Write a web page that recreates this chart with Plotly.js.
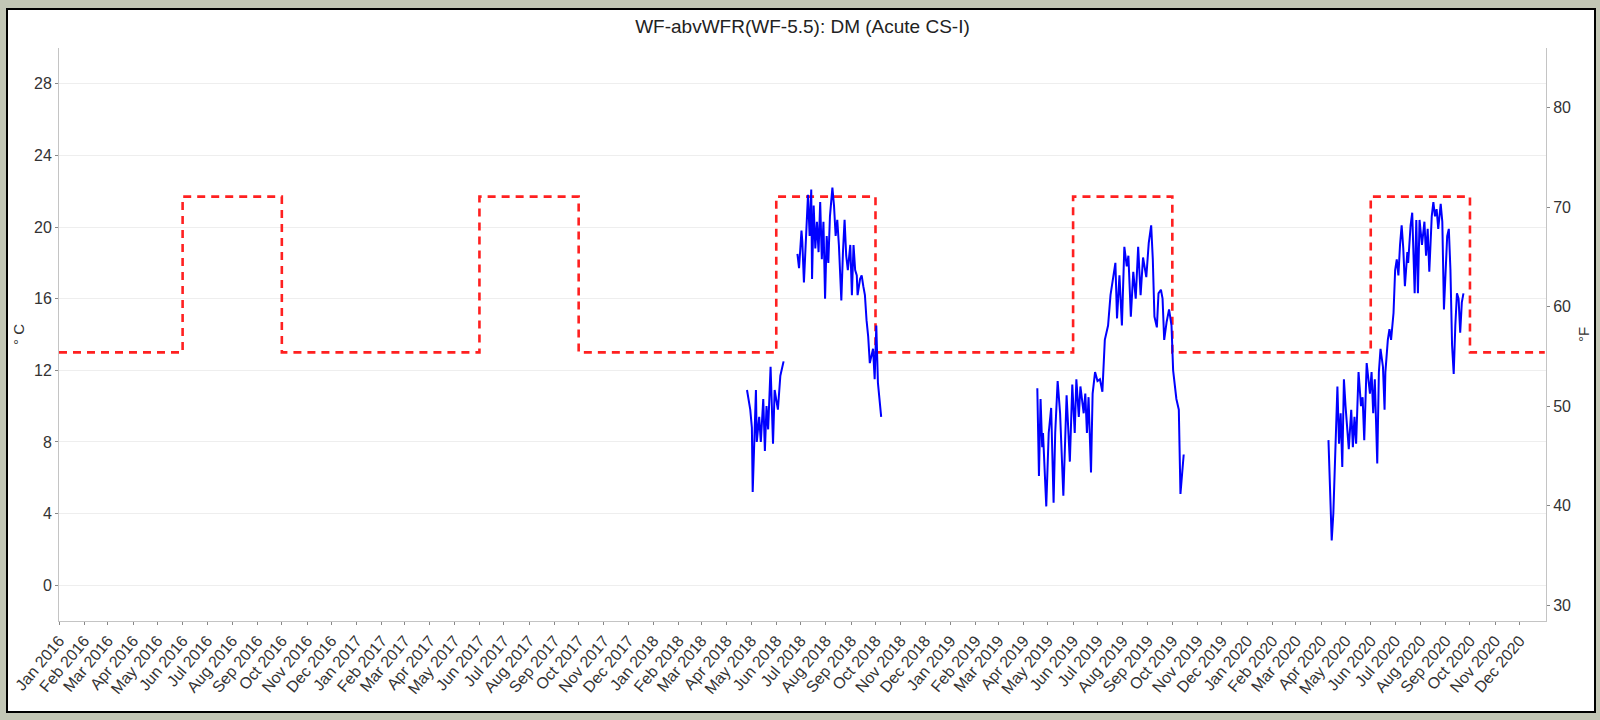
<!DOCTYPE html>
<html>
<head>
<meta charset="utf-8">
<script src="https://cdn.plot.ly/plotly-3.0.1.min.js"></script>
<style>
  html, body { margin: 0; padding: 0; width: 1600px; height: 720px; background: #c2c6b5; overflow: hidden; }
  #frame { position: absolute; left: 6px; top: 8px; width: 1586px; height: 701px; border: 2px solid #000; background: #fff; }
  #chart { width: 1586px; height: 701px; }
</style>
</head>
<body>
<div id="frame"><div id="chart"></div></div>
<script>
// ---- Data ----
const chartTitle = 'WF-abvWFR(WF-5.5): DM (Acute CS-I)';

// Criterion step line (°C)
const criterionDates = ['2016-01-01','2016-06-01','2016-10-01','2017-06-01','2017-10-01','2018-06-01','2018-10-01','2019-06-01','2019-10-01','2020-06-01','2020-10-01','2021-01-01'];
const criterionC     = [13, 21.7, 13, 21.7, 13, 21.7, 13, 21.7, 13, 21.7, 13, 13];

// Daily max temperature (°C), spring 2018
const spring2018Dates = ['2018-04-26','2018-04-30','2018-05-02','2018-05-03','2018-05-07','2018-05-08','2018-05-11','2018-05-13','2018-05-16','2018-05-18','2018-05-20','2018-05-22','2018-05-25','2018-05-28','2018-05-30','2018-06-03','2018-06-06','2018-06-10'];
const spring2018C     = [10.9, 9.8, 8.8, 5.2, 10.9, 8.0, 9.4, 8.0, 10.4, 7.5, 10.0, 8.7, 12.2, 7.9, 10.9, 9.8, 11.7, 12.5];

// Summer 2018
const summer2018Dates = ['2018-06-27','2018-06-29','2018-07-02','2018-07-03','2018-07-05','2018-07-07','2018-07-10','2018-07-12','2018-07-14','2018-07-15','2018-07-17','2018-07-19','2018-07-21','2018-07-23','2018-07-25','2018-07-27','2018-07-29','2018-07-31','2018-08-02','2018-08-04','2018-08-06','2018-08-09','2018-08-11','2018-08-13','2018-08-15','2018-08-17','2018-08-20','2018-08-22','2018-08-24','2018-08-26','2018-08-28','2018-08-31','2018-09-02','2018-09-04','2018-09-06','2018-09-08','2018-09-09','2018-09-12','2018-09-14','2018-09-16','2018-09-18','2018-09-20','2018-09-22','2018-09-24','2018-09-26','2018-09-28','2018-09-30','2018-10-02','2018-10-04','2018-10-06','2018-10-08'];
const summer2018C     = [18.5, 17.7, 19.8, 19.2, 16.9, 19.3, 21.8, 19.5, 22.1, 17.1, 21.2, 18.8, 20.3, 18.6, 21.4, 18.2, 20.3, 16.0, 19.5, 18.0, 20.6, 22.2, 21.2, 19.5, 20.4, 19.0, 15.9, 18.6, 20.4, 18.4, 17.6, 19.0, 16.2, 19.0, 17.6, 17.3, 16.2, 17.1, 17.3, 16.7, 16.2, 14.8, 13.9, 12.4, 12.8, 13.2, 11.5, 14.5, 11.3, 10.2, 9.4];

// Season 2019
const season2019Dates = ['2019-04-18','2019-04-19','2019-04-20','2019-04-22','2019-04-24','2019-04-25','2019-04-29','2019-05-02','2019-05-05','2019-05-08','2019-05-10','2019-05-13','2019-05-16','2019-05-20','2019-05-24','2019-05-28','2019-05-31','2019-06-03','2019-06-05','2019-06-08','2019-06-10','2019-06-14','2019-06-16','2019-06-18','2019-06-20','2019-06-23','2019-06-25','2019-06-28','2019-07-01','2019-07-04','2019-07-07','2019-07-10','2019-07-14','2019-07-17','2019-07-20','2019-07-23','2019-07-25','2019-07-28','2019-07-31','2019-08-03','2019-08-06','2019-08-08','2019-08-11','2019-08-14','2019-08-17','2019-08-20','2019-08-23','2019-08-26','2019-08-30','2019-09-02','2019-09-05','2019-09-07','2019-09-09','2019-09-12','2019-09-14','2019-09-17','2019-09-19','2019-09-21','2019-09-24','2019-09-27','2019-09-30','2019-10-02','2019-10-06','2019-10-09','2019-10-11','2019-10-15'];
const season2019C     = [11.0, 9.1, 6.1, 10.4, 7.7, 8.5, 4.4, 8.5, 9.9, 4.6, 8.5, 11.4, 9.6, 5.0, 10.6, 6.9, 11.2, 8.5, 11.5, 9.4, 11.1, 9.6, 10.7, 8.5, 10.5, 6.3, 10.7, 11.9, 11.4, 11.5, 10.8, 13.7, 14.5, 16.2, 17.0, 18.0, 14.9, 17.3, 14.5, 18.9, 17.8, 18.4, 15.0, 17.5, 16.0, 18.9, 16.2, 18.3, 17.2, 19.1, 20.1, 18.2, 15.0, 14.4, 16.3, 16.5, 16.0, 13.7, 14.7, 15.4, 14.5, 12.0, 10.4, 9.8, 5.1, 7.3];

// Season 2020
const season2020Dates = ['2020-04-10','2020-04-11','2020-04-14','2020-04-16','2020-04-18','2020-04-19','2020-04-21','2020-04-23','2020-04-25','2020-04-27','2020-04-29','2020-05-01','2020-05-03','2020-05-05','2020-05-08','2020-05-10','2020-05-12','2020-05-14','2020-05-17','2020-05-20','2020-05-22','2020-05-24','2020-05-27','2020-05-29','2020-05-31','2020-06-02','2020-06-04','2020-06-06','2020-06-09','2020-06-11','2020-06-13','2020-06-16','2020-06-18','2020-06-19','2020-06-22','2020-06-24','2020-06-26','2020-06-29','2020-07-01','2020-07-03','2020-07-05','2020-07-07','2020-07-09','2020-07-11','2020-07-13','2020-07-16','2020-07-17','2020-07-20','2020-07-22','2020-07-25','2020-07-27','2020-07-29','2020-07-31','2020-08-03','2020-08-06','2020-08-08','2020-08-10','2020-08-12','2020-08-15','2020-08-17','2020-08-19','2020-08-21','2020-08-23','2020-08-26','2020-08-28','2020-08-30','2020-09-01','2020-09-03','2020-09-05','2020-09-07','2020-09-09','2020-09-11','2020-09-13','2020-09-15','2020-09-17','2020-09-19','2020-09-21','2020-09-23'];
const season2020C     = [8.1, 6.8, 2.5, 4.0, 7.4, 9.2, 11.1, 7.9, 9.6, 6.6, 11.5, 10.0, 8.5, 7.6, 9.8, 7.7, 9.4, 7.9, 11.9, 10.0, 10.5, 8.1, 12.4, 11.5, 10.7, 11.9, 9.6, 11.5, 6.8, 11.9, 13.2, 12.2, 9.8, 11.9, 13.7, 14.3, 13.7, 15.2, 17.6, 18.2, 17.3, 19.0, 20.1, 18.8, 16.7, 18.6, 18.0, 20.1, 20.8, 16.3, 20.4, 16.3, 20.4, 19.0, 20.3, 18.4, 19.9, 17.5, 20.6, 21.4, 20.6, 21.0, 19.9, 21.3, 20.3, 15.4, 17.1, 19.5, 19.9, 17.6, 13.4, 11.8, 14.5, 16.3, 16.0, 14.1, 15.8, 16.3];

// Axis ticks
const yTicksC = [0, 4, 8, 12, 16, 20, 24, 28];
const yTicksF = [30, 40, 50, 60, 70, 80];
const yRangeC = [-2, 30];
const xRange = ['2016-01-01', '2021-01-02 12:00'];
const xTickYears = [2016, 2017, 2018, 2019, 2020];
const xTickMonths = ['01','02','03','04','05','06','07','08','09','10','11','12'];

// ---- Build ----
const cToF = c => c * 9 / 5 + 32;
const xTickVals = [];
xTickYears.forEach(y => xTickMonths.forEach(m => xTickVals.push(y + '-' + m + '-01')));

const blueLine = { color: '#0000ff', width: 2 };
const seasons = [
  [spring2018Dates, spring2018C],
  [summer2018Dates, summer2018C],
  [season2019Dates, season2019C],
  [season2020Dates, season2020C]
];

const traces = [];
traces.push({
  x: criterionDates, y: criterionC, type: 'scatter', mode: 'lines',
  line: { color: '#ff2020', width: 2.6, dash: '8px,6px', shape: 'hv' },
  hoverinfo: 'skip', showlegend: false
});
seasons.forEach(s => traces.push({
  x: s[0], y: s[1], type: 'scatter', mode: 'lines', line: blueLine,
  showlegend: false
}));
// invisible trace to activate the °F axis
traces.push({ x: [criterionDates[0]], y: [null], yaxis: 'y2', type: 'scatter', mode: 'lines', showlegend: false, hoverinfo: 'skip' });

const fontFam = 'Liberation Sans, Arial, sans-serif';
const tickFont = { family: fontFam, size: 16, color: '#333333' };

const layout = {
  width: 1586, height: 701,
  margin: { l: 51, r: 48, t: 38, b: 90, pad: 0 },
  paper_bgcolor: '#ffffff', plot_bgcolor: '#ffffff',
  showlegend: false,
  title: {
    text: chartTitle, x: 0.5, xref: 'paper', y: 1 - 16.5 / 701, yref: 'container',
    xanchor: 'center', yanchor: 'middle',
    font: { family: fontFam, size: 19, color: '#222' }
  },
  xaxis: {
    type: 'date', range: xRange, tickvals: xTickVals, tickformat: '%b %Y',
    tickangle: -50, tickfont: tickFont,
    ticks: 'outside', ticklen: 3, tickcolor: '#888', tickwidth: 1,
    showline: true, linecolor: '#c4c4c4', linewidth: 1,
    showgrid: false, zeroline: false, fixedrange: true
  },
  yaxis: {
    range: yRangeC, tickvals: yTicksC, ticktext: yTicksC.map(String), tickfont: tickFont,
    ticks: 'outside', ticklen: 3, tickcolor: '#888', tickwidth: 1,
    showline: true, linecolor: '#c4c4c4', linewidth: 1,
    showgrid: true, gridcolor: '#eeeeee', gridwidth: 1, zeroline: false,
    title: { text: '° C', standoff: 5, font: { family: fontFam, size: 15, color: '#333' } }
  },
  yaxis2: {
    overlaying: 'y', side: 'right', anchor: 'x',
    range: yRangeC.map(cToF), tickvals: yTicksF, ticktext: yTicksF.map(String), tickfont: tickFont,
    ticks: 'outside', ticklen: 3, tickcolor: '#888', tickwidth: 1,
    showline: true, linecolor: '#c4c4c4', linewidth: 1,
    showgrid: false, zeroline: false,
    title: { text: '°F', standoff: 8, font: { family: fontFam, size: 15, color: '#333' } }
  }
};

Plotly.newPlot('chart', traces, layout, { displayModeBar: false, staticPlot: true });
</script>
</body>
</html>
